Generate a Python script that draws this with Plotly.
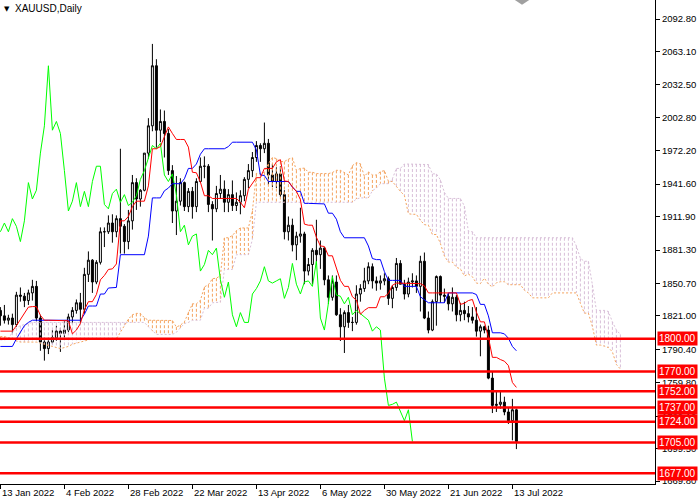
import plotly.graph_objects as go

# XAUUSD daily candles, 13 Jan 2022 .. 14 Jul 2022 (one value per trading day)
open_ = [1826, 1821, 1817, 1819, 1813, 1840, 1839, 1835, 1842, 1848,
         1819, 1797, 1791, 1797, 1801, 1807, 1805, 1808, 1820, 1826,
         1833, 1827, 1859, 1872, 1852, 1870, 1898, 1898, 1906, 1898,
         1910, 1903, 1889, 1908, 1943, 1928, 1936, 1970, 1995, 2050,
         1991, 1999, 1988, 1954, 1917, 1926, 1943, 1921, 1935, 1921,
         1944, 1958, 1958, 1923, 1919, 1933, 1937, 1925, 1932, 1922,
         1925, 1931, 1946, 1954, 1966, 1977, 1974, 1979, 1950, 1944,
         1951, 1932, 1898, 1904, 1886, 1894, 1896, 1862, 1868, 1881,
         1877, 1883, 1854, 1838, 1852, 1822, 1811, 1824, 1815, 1815,
         1841, 1846, 1853, 1866, 1853, 1851, 1853, 1855, 1837, 1847,
         1869, 1850, 1841, 1852, 1853, 1848, 1871, 1819, 1808, 1834,
         1857, 1840, 1839, 1832, 1838, 1822, 1826, 1823, 1820, 1817,
         1807, 1811, 1808, 1764, 1739, 1740, 1742, 1733, 1725, 1735]
high = [1829, 1831, 1822, 1823, 1843, 1847, 1842, 1845, 1854, 1853,
        1822, 1801, 1801, 1808, 1812, 1810, 1816, 1823, 1829, 1836,
        1842, 1865, 1880, 1873, 1872, 1902, 1902, 1913, 1914, 1913,
        1974, 1905, 1918, 1950, 1947, 1937, 1970, 2002, 2070, 2056,
        2010, 2009, 1992, 1959, 1949, 1947, 1944, 1938, 1939, 1947,
        1966, 1967, 1960, 1926, 1940, 1950, 1945, 1937, 1945, 1934,
        1936, 1948, 1960, 1971, 1981, 1979, 1998, 1983, 1960, 1957,
        1958, 1936, 1912, 1910, 1898, 1920, 1898, 1874, 1883, 1909,
        1890, 1884, 1858, 1858, 1858, 1828, 1826, 1831, 1820, 1849,
        1850, 1865, 1870, 1869, 1857, 1858, 1860, 1857, 1849, 1874,
        1872, 1854, 1856, 1860, 1858, 1876, 1879, 1825, 1836, 1858,
        1858, 1846, 1842, 1847, 1840, 1833, 1834, 1830, 1829, 1829,
        1813, 1812, 1812, 1770, 1752, 1752, 1747, 1737, 1745, 1736]
low = [1812, 1814, 1813, 1805, 1811, 1834, 1829, 1831, 1835, 1816,
       1789, 1780, 1786, 1795, 1798, 1788, 1801, 1806, 1814, 1823,
       1814, 1823, 1852, 1842, 1850, 1868, 1884, 1896, 1888, 1893,
       1878, 1878, 1882, 1900, 1918, 1921, 1935, 1965, 1990, 1975,
       1980, 1966, 1950, 1906, 1895, 1922, 1917, 1916, 1910, 1916,
       1943, 1947, 1916, 1890, 1916, 1928, 1916, 1916, 1917, 1917,
       1914, 1926, 1938, 1948, 1962, 1962, 1970, 1941, 1939, 1938,
       1930, 1891, 1890, 1880, 1872, 1888, 1850, 1858, 1850, 1868,
       1864, 1849, 1832, 1835, 1821, 1798, 1787, 1810, 1807, 1813,
       1834, 1843, 1850, 1846, 1844, 1845, 1849, 1831, 1828, 1844,
       1850, 1836, 1838, 1847, 1842, 1825, 1818, 1805, 1807, 1812,
       1833, 1833, 1826, 1825, 1816, 1816, 1817, 1815, 1814, 1802,
       1784, 1805, 1763, 1732, 1733, 1736, 1730, 1722, 1707, 1699]
close = [1821, 1817, 1819, 1813, 1840, 1839, 1835, 1842, 1848, 1819,
         1797, 1791, 1797, 1801, 1807, 1805, 1808, 1820, 1826, 1833,
         1827, 1859, 1872, 1852, 1870, 1898, 1898, 1906, 1898, 1910,
         1903, 1889, 1908, 1943, 1928, 1936, 1970, 1995, 2050, 1991,
         1999, 1988, 1954, 1917, 1926, 1943, 1921, 1935, 1921, 1944,
         1958, 1958, 1923, 1919, 1933, 1937, 1925, 1932, 1922, 1925,
         1931, 1946, 1954, 1966, 1977, 1974, 1979, 1950, 1944, 1951,
         1932, 1898, 1904, 1886, 1894, 1896, 1862, 1868, 1881, 1877,
         1883, 1854, 1838, 1852, 1822, 1811, 1824, 1815, 1815, 1841,
         1846, 1853, 1866, 1853, 1851, 1853, 1855, 1837, 1847, 1869,
         1850, 1841, 1852, 1853, 1848, 1871, 1819, 1808, 1834, 1857,
         1840, 1839, 1832, 1838, 1822, 1826, 1823, 1820, 1817, 1807,
         1811, 1808, 1764, 1739, 1740, 1742, 1733, 1725, 1735, 1706]

# ichimoku lines as drawn on the chart
tenkan = [1807, 1807, 1807, 1807, 1812, 1818, 1824, 1829, 1829.5, 1829.5,
          1821.5, 1817, 1817, 1817, 1817, 1817, 1817, 1816.5, 1804.5, 1808,
          1814, 1826.5, 1834, 1834, 1840.5, 1854, 1858, 1863.5, 1864, 1868.5,
          1908, 1908, 1912, 1921, 1926, 1926, 1926, 1940, 1974, 1974,
          1976, 1985, 1994, 1988, 1982.5, 1982.5, 1982.5, 1975.5, 1952.5, 1952,
          1943.5, 1931, 1931, 1928.5, 1928.5, 1928.5, 1928.5, 1928.5, 1928.5, 1928.5,
          1925, 1920, 1937, 1942.5, 1947.5, 1947.5, 1956, 1956, 1956, 1962,
          1964, 1944.5, 1944, 1939, 1935, 1927.5, 1905, 1904, 1904, 1893,
          1885, 1884.5, 1876, 1876, 1865, 1853.5, 1848, 1848, 1838.5, 1835.5,
          1822.5, 1826, 1828.5, 1828.5, 1828.5, 1838.5, 1838.5, 1841.5, 1849, 1851,
          1851, 1851, 1851, 1851, 1851, 1850.5, 1848.5, 1842, 1842, 1842,
          1842, 1842, 1842, 1842, 1842, 1831.5, 1832.5, 1835, 1836, 1824.5,
          1815.5, 1815.5, 1801.5, 1783, 1783, 1781, 1779.5, 1775.5, 1760, 1755.5]
kijun = [1793, 1793, 1793, 1793, 1800, 1806, 1812, 1815, 1817, 1817,
         1817, 1817, 1817, 1817, 1817, 1817, 1817, 1817, 1817, 1817,
         1817, 1822.5, 1830, 1830, 1830, 1841, 1841, 1846.5, 1847, 1847,
         1877, 1877, 1877, 1877, 1877, 1877, 1877, 1894, 1929, 1929,
         1929, 1935.5, 1938, 1942, 1942, 1942, 1946.5, 1956, 1956, 1960,
         1969, 1974, 1974, 1974, 1974, 1974, 1974, 1976, 1980, 1980,
         1980, 1980, 1980, 1980, 1973, 1950, 1949.5, 1944, 1944, 1944,
         1944, 1944, 1944, 1939, 1935, 1935, 1924, 1924, 1924, 1924,
         1924, 1923.5, 1915, 1915, 1909.5, 1898, 1892.5, 1892.5, 1892.5, 1892.5,
         1892.5, 1892.5, 1885, 1873.5, 1872.5, 1872.5, 1861.5, 1853.5, 1853.5, 1853.5,
         1853.5, 1848, 1848, 1848, 1848, 1838.5, 1835.5, 1833, 1833, 1833,
         1833, 1833, 1842, 1842, 1842, 1842, 1842, 1842, 1842, 1840.5,
         1831.5, 1831.5, 1821, 1805.5, 1805.5, 1805.5, 1804.5, 1800.5, 1793, 1789]
# senkou spans, drawn 26 bars ahead, so they run past the last candle
span_a = [1802, 1802, 1801, 1800, 1798, 1797, 1797, 1797, 1797, 1797,
          1796, 1795, 1794, 1793, 1792, 1791, 1792, 1793, 1795, 1796,
          1797, 1798, 1799, 1800, 1800, 1800, 1800, 1800, 1800, 1800,
          1806, 1812, 1818, 1822, 1823.25, 1823.25, 1819.25, 1817, 1817, 1817,
          1817, 1817, 1817, 1816.75, 1810.75, 1812.5, 1815.5, 1824.5, 1832, 1832,
          1835.25, 1847.5, 1849.5, 1855, 1855.5, 1857.75, 1892.5, 1892.5, 1894.5, 1899,
          1901.5, 1901.5, 1901.5, 1917, 1951.5, 1951.5, 1952.5, 1960.25, 1966, 1965,
          1962.25, 1962.25, 1964.5, 1965.75, 1954.25, 1956, 1956.25, 1952.5, 1952.5, 1951.25,
          1951.25, 1951.25, 1951.25, 1952.25, 1954.25, 1954.25, 1952.5, 1950, 1958.5, 1961.25,
          1960.25, 1948.75, 1952.75, 1950, 1950, 1953, 1954, 1944.25, 1944, 1939,
          1935, 1931.25, 1914.5, 1914, 1914, 1908.5, 1904.5, 1904, 1895.5, 1895.5,
          1887.25, 1875.75, 1870.25, 1870.25, 1865.5, 1864, 1857.5, 1859.25, 1856.75, 1851,
          1850.5, 1855.5, 1850, 1847.5, 1851.25, 1852.25, 1852.25, 1849.5, 1849.5, 1849.5,
          1849.5, 1844.5, 1842, 1837.5, 1837.5, 1837.5, 1837.5, 1837.5, 1842, 1842,
          1842, 1842, 1842, 1842, 1842, 1832.5, 1823.5, 1823.5, 1811.25, 1794.25,
          1794.25, 1793.25, 1792, 1788, 1776.5, 1772.25]
span_b = [1799, 1799, 1800, 1806, 1810, 1812, 1813, 1814, 1815, 1815,
          1815, 1815, 1815, 1815, 1815, 1815, 1815, 1815, 1815, 1815,
          1815, 1815, 1815, 1815, 1815, 1815, 1815, 1815, 1815, 1815,
          1815, 1815, 1815, 1815, 1815, 1815, 1815, 1811, 1807, 1804,
          1804, 1804, 1804, 1804, 1806, 1810, 1814, 1815, 1817, 1817,
          1817, 1828, 1828, 1833, 1833.5, 1833.5, 1863.5, 1863.5, 1863.5, 1877,
          1877, 1877, 1877, 1891, 1925, 1925, 1925, 1925, 1925, 1925,
          1925, 1925, 1925, 1925, 1925, 1925, 1925, 1925, 1925, 1925,
          1925, 1925, 1925, 1925, 1925, 1925, 1925, 1925, 1925, 1928,
          1929, 1929, 1929, 1935.5, 1938, 1942, 1942, 1942, 1946.5, 1956,
          1956, 1960, 1960, 1960, 1960, 1960, 1960, 1959.5, 1951, 1951,
          1945.5, 1934, 1928.5, 1928.5, 1928.5, 1928.5, 1921.5, 1898.5, 1898, 1892.5,
          1892.5, 1892.5, 1892.5, 1892.5, 1892.5, 1892.5, 1892.5, 1892.5, 1892.5, 1892.5,
          1892.5, 1892.5, 1892.5, 1892.5, 1892.5, 1892.5, 1892.5, 1892.5, 1892.5, 1892.5,
          1892.5, 1892.5, 1892.5, 1892.5, 1885, 1873.5, 1871, 1871, 1849.5, 1826,
          1826, 1826, 1825, 1815.5, 1808, 1804]

date_ticks = ["13 Jan 2022", "4 Feb 2022", "28 Feb 2022", "22 Mar 2022", "13 Apr 2022",
              "6 May 2022", "30 May 2022", "21 Jun 2022", "13 Jul 2022"]
date_tick_bars = [0, 16, 32, 48, 64, 80, 96, 112, 128]
price_ticks = [2092.80, 2063.10, 2032.50, 2002.80, 1972.20, 1941.60, 1911.90, 1881.30,
               1850.70, 1821.00, 1790.40, 1759.80, 1729.10, 1699.50, 1669.80]
levels = [1800, 1770, 1752, 1737, 1724, 1705, 1677]

SHIFT = 26
FONT = "Liberation Sans, Arial, sans-serif"

bars = list(range(len(close)))
chikou_x = [b - SHIFT for b in bars[SHIFT:]]

fig = go.Figure()

# kumo: dotted vertical hatch between the spans, colour by which span is on top
up_x, up_y, dn_x, dn_y = [], [], [], []
for j, (a, b) in enumerate(zip(span_a, span_b)):
    if a >= b:
        up_x += [j, j, None]
        up_y += [a, b, None]
    else:
        dn_x += [j, j, None]
        dn_y += [b, a, None]
fig.add_trace(go.Scatter(x=up_x, y=up_y, mode="lines", hoverinfo="skip",
                         line=dict(color="#F4A460", width=1, dash="3px,2px")))
fig.add_trace(go.Scatter(x=dn_x, y=dn_y, mode="lines", hoverinfo="skip",
                         line=dict(color="#D8BFD8", width=1, dash="3px,2px")))
fig.add_trace(go.Scatter(x=list(range(len(span_a))), y=span_a, mode="lines",
                         line=dict(color="#F4A460", width=1, dash="2px,2px")))
fig.add_trace(go.Scatter(x=list(range(len(span_b))), y=span_b, mode="lines",
                         line=dict(color="#D8BFD8", width=1, dash="2px,2px")))

fig.add_trace(go.Candlestick(
    x=bars, open=open_, high=high, low=low, close=close, whiskerwidth=0,
    increasing=dict(line=dict(color="black", width=1), fillcolor="white"),
    decreasing=dict(line=dict(color="black", width=1), fillcolor="black"),
))

fig.add_trace(go.Scatter(x=chikou_x, y=close[SHIFT:], mode="lines",
                         line=dict(color="#00FF00", width=1)))
fig.add_trace(go.Scatter(x=bars, y=kijun, mode="lines", line=dict(color="#0000FF", width=1)))
fig.add_trace(go.Scatter(x=bars, y=tenkan, mode="lines", line=dict(color="#FF0000", width=1)))

for lv in levels:
    fig.add_hline(y=lv, line=dict(color="#FF0000", width=2.5))
    fig.add_annotation(x=1, xref="paper", y=lv, yref="y", xanchor="left", xshift=2,
                       text=f"{lv:.2f}", showarrow=False, bgcolor="#FF0000", borderpad=1,
                       font=dict(family=FONT, size=10, color="white"))

for b, txt in zip(date_tick_bars, date_ticks):
    fig.add_annotation(x=b, xref="x", y=0, yref="paper", xanchor="left", yanchor="top",
                       xshift=0, yshift=-1, text=txt, showarrow=False,
                       font=dict(family=FONT, size=9.5, color="black"))

fig.add_annotation(x=0, xref="paper", y=1, yref="paper", xanchor="left", yanchor="top",
                   xshift=2, yshift=-3, text="▼", showarrow=False,
                   font=dict(family="DejaVu Sans", size=7, color="black"))
fig.add_annotation(x=0, xref="paper", y=1, yref="paper", xanchor="left", yanchor="top",
                   xshift=13, yshift=-1, text="XAUUSD,Daily", showarrow=False,
                   font=dict(family=FONT, size=10, color="black"))
# chart shift marker
fig.add_shape(type="path", xref="paper", yref="paper",
              path="M 0.786,1 L 0.808,1 L 0.797,0.99 Z",
              fillcolor="#A0A0A0", line=dict(width=0))

fig.update_layout(
    width=700, height=500,
    margin=dict(l=0, r=45, t=0, b=16),
    paper_bgcolor="white", plot_bgcolor="white",
    showlegend=False,
    font=dict(family=FONT, size=10, color="black"),
    xaxis=dict(range=[-0.1, 163.65], rangeslider=dict(visible=False),
               showgrid=False, zeroline=False, showline=True, linecolor="black",
               linewidth=1, tickvals=date_tick_bars, ticktext=[""] * len(date_tick_bars),
               ticks="outside", ticklen=4, tickcolor="black"),
    yaxis=dict(range=[1667.05, 2110.2], side="right", showgrid=False, zeroline=False,
               showline=True, linecolor="black", linewidth=1,
               tickvals=price_ticks, ticktext=[f"{p:.2f}" for p in price_ticks],
               ticks="outside", ticklen=4, tickcolor="black",
               tickfont=dict(family=FONT, size=9.5, color="black")),
)

# drop the page's default body margin so the chart sits at the window corner
fig.write_html("out.html", config={"displayModeBar": False},
               post_script="document.body.style.margin='0';")
